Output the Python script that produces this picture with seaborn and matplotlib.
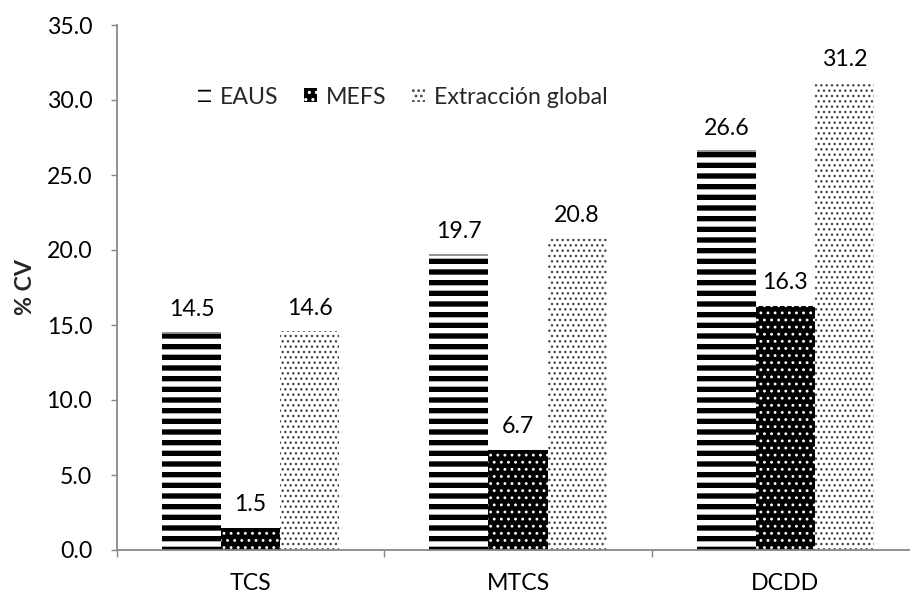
import matplotlib
matplotlib.use("Agg")
import matplotlib.pyplot as plt
from matplotlib.ticker import FixedLocator, FormatStrFormatter
import seaborn as sns
import pandas as pd

# Data
categories = ["TCS", "MTCS", "DCDD"]
series = ["EAUS", "MEFS", "Extracción global"]
eaus = [14.5, 19.7, 26.6]
mefs = [1.5, 6.7, 16.3]
global_ext = [14.6, 20.8, 31.2]
y_ticks = [0, 5, 10, 15, 20, 25, 30, 35]

DPI = 128
sns.set_theme(style="white")
plt.rcParams["font.family"] = ["Lato", "DejaVu Sans"]
plt.rcParams["font.size"] = 13

df = pd.DataFrame({
    "Muestra": categories * 3,
    "Serie": [series[0]] * 3 + [series[1]] * 3 + [series[2]] * 3,
    "CV": eaus + mefs + global_ext,
})

fig = plt.figure(figsize=(910 / DPI, 594 / DPI), dpi=DPI)
ax = fig.add_axes([117 / 910, 1 - 550 / 594, 802 / 910, 525 / 594])

sns.barplot(data=df, x="Muestra", y="CV", hue="Serie", order=categories,
            hue_order=series, width=0.663, gap=0, ax=ax, errorbar=None,
            palette=["white", "black", "white"], saturation=1, legend=True)

# fill, hatch, hatch colour, hatch line width (pt)
styles = [
    ("white", "--", "black", 3.0),
    ("black", "...", "white", 0.8),
    ("white", "....", "#4a4a4a", 0.8),
]

def style_patch(p, st):
    face, hatch, hcol, hlw = st
    p.set_facecolor(face)
    p.set_edgecolor(hcol)
    p.set_linewidth(0)
    p.set_hatch(hatch)
    if hasattr(p, "set_hatch_linewidth"):
        p.set_hatch_linewidth(hlw)

for cont, st in zip(ax.containers, styles):
    for p in cont.patches:
        style_patch(p, st)
    ax.bar_label(cont, labels=[f"{v:.1f}" for v in cont.datavalues],
                 padding=7, fontsize=13, color="black")

# thin cap line along the top of the striped bars
for p in ax.containers[0].patches:
    ax.plot([p.get_x(), p.get_x() + p.get_width()],
            [p.get_height(), p.get_height()],
            color="#8a8a8a", lw=1.0, solid_capstyle="butt")

ax.set_ylim(0, 35)
ax.set_xlim(-0.5, 2.5)
ax.yaxis.set_major_locator(FixedLocator(y_ticks))
ax.yaxis.set_major_formatter(FormatStrFormatter("%.1f"))

axis_gray = "#868686"
for s in ["top", "right"]:
    ax.spines[s].set_visible(False)
for s in ["left", "bottom"]:
    ax.spines[s].set_color(axis_gray)
    ax.spines[s].set_linewidth(1.0)

ax.tick_params(axis="y", which="major", direction="out", length=3.4,
               width=0.8, color=axis_gray, pad=10.5, labelsize=13,
               labelcolor="black", left=True)
ax.tick_params(axis="x", which="major", length=0, pad=13, labelsize=13,
               labelcolor="black")
ax.xaxis.set_minor_locator(FixedLocator([-0.5, 0.5, 1.5, 2.5]))
ax.tick_params(axis="x", which="minor", direction="out", length=4,
               width=0.8, color=axis_gray, bottom=True)

ax.set_xlabel("")
ax.set_ylabel("% CV", fontsize=13, fontweight="bold")
ax.yaxis.set_label_coords(-(117 - 36) / 802, 0.5)

handles, labels = ax.get_legend_handles_labels()
for h, st in zip(handles, styles):
    style_patch(h, st)
leg = ax.legend(handles, labels, loc="center left", ncol=3, frameon=False,
                bbox_to_anchor=(72 / 802, 1 - (97 - 25) / 525),
                handlelength=0.55, handleheight=0.55, handletextpad=0.4,
                columnspacing=1.1, fontsize=13, borderaxespad=0)

fig.savefig("out.png", dpi=DPI)
